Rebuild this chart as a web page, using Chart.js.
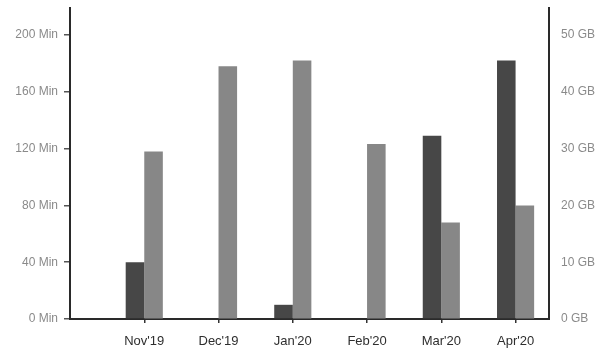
<!DOCTYPE html>
<html>
<head>
<meta charset="utf-8">
<script src="https://cdn.jsdelivr.net/npm/chart.js@4/dist/chart.umd.min.js"></script>
<style>
  html, body { margin: 0; padding: 0; background: #fff; }
  #wrap { width: 606px; height: 348px; }
</style>
</head>
<body>
<div id="wrap"><canvas id="c" width="606" height="348"></canvas></div>
<script>
// Monthly usage: call minutes (left axis) and data volume (right axis)
const months = ["Nov'19", "Dec'19", "Jan'20", "Feb'20", "Mar'20", "Apr'20"];
const minutesUsed = [40, 0, 10, 0, 129, 182];
const dataUsedGB = [29.5, 44.5, 45.5, 30.8, 17, 20];
const minuteTicks = [0, 40, 80, 120, 160, 200];
const gbTicks = [0, 10, 20, 30, 40, 50];

const points = (vals) => vals.map((v, i) => ({ x: i, y: v }));

// Replace generated ticks with a fixed list of values
const setTicks = (values) => (scale) => {
  scale.ticks = values.map(v => ({ value: v }));
};

// Fixed axis width; no extra room reserved for the end labels
const fitVertical = (width) => (scale) => {
  scale.width = width;
  scale.paddingTop = 0;
  scale.paddingBottom = 0;
};

new Chart(document.getElementById('c'), {
  type: 'bar',
  data: {
    datasets: [
      {
        label: 'Minutes',
        data: points(minutesUsed),
        backgroundColor: '#474747',
        yAxisID: 'y',
        barPercentage: 1,
        categoryPercentage: 0.5
      },
      {
        label: 'Data',
        data: points(dataUsedGB),
        backgroundColor: '#878787',
        yAxisID: 'y1',
        barPercentage: 1,
        categoryPercentage: 0.5
      }
    ]
  },
  options: {
    responsive: false,
    animation: false,
    layout: { padding: { top: 8, left: 0, right: 0, bottom: 0 } },
    plugins: { legend: { display: false }, tooltip: { enabled: false } },
    scales: {
      x: {
        type: 'linear',
        min: -1,
        max: 5.45,
        offset: false,
        afterBuildTicks: setTicks(months.map((m, i) => i)),
        afterFit: (s) => { s.height = 29; s.paddingLeft = 0; s.paddingRight = 0; },
        ticks: {
          autoSkip: false,
          maxRotation: 0,
          padding: 11,
          color: '#2e2e2e',
          font: { family: 'Liberation Sans', size: 13 },
          callback: (v) => months[v] ?? ''
        },
        grid: { offset: false, drawOnChartArea: false, drawTicks: true, tickLength: 4, tickColor: '#333', lineWidth: 1.5 },
        border: { display: true, color: '#2a2a2a', width: 2 }
      },
      y: {
        position: 'left',
        min: 0,
        max: 219,
        afterBuildTicks: setTicks(minuteTicks),
        afterFit: fitVertical(70),
        ticks: {
          padding: 6,
          color: '#8a8a8a',
          font: { family: 'Liberation Sans', size: 12 },
          callback: (v) => v + ' Min'
        },
        grid: { drawOnChartArea: false, drawTicks: true, tickLength: 6, tickColor: '#555', lineWidth: 1.5 },
        border: { display: true, color: '#2a2a2a', width: 2 }
      },
      y1: {
        position: 'right',
        min: 0,
        max: 54.75,
        afterBuildTicks: setTicks(gbTicks),
        afterFit: fitVertical(57),
        ticks: {
          padding: 12,
          color: '#8a8a8a',
          font: { family: 'Liberation Sans', size: 12 },
          callback: (v) => v + ' GB'
        },
        grid: { drawOnChartArea: false, drawTicks: false },
        border: { display: true, color: '#2a2a2a', width: 2 }
      }
    }
  }
});
</script>
</body>
</html>
